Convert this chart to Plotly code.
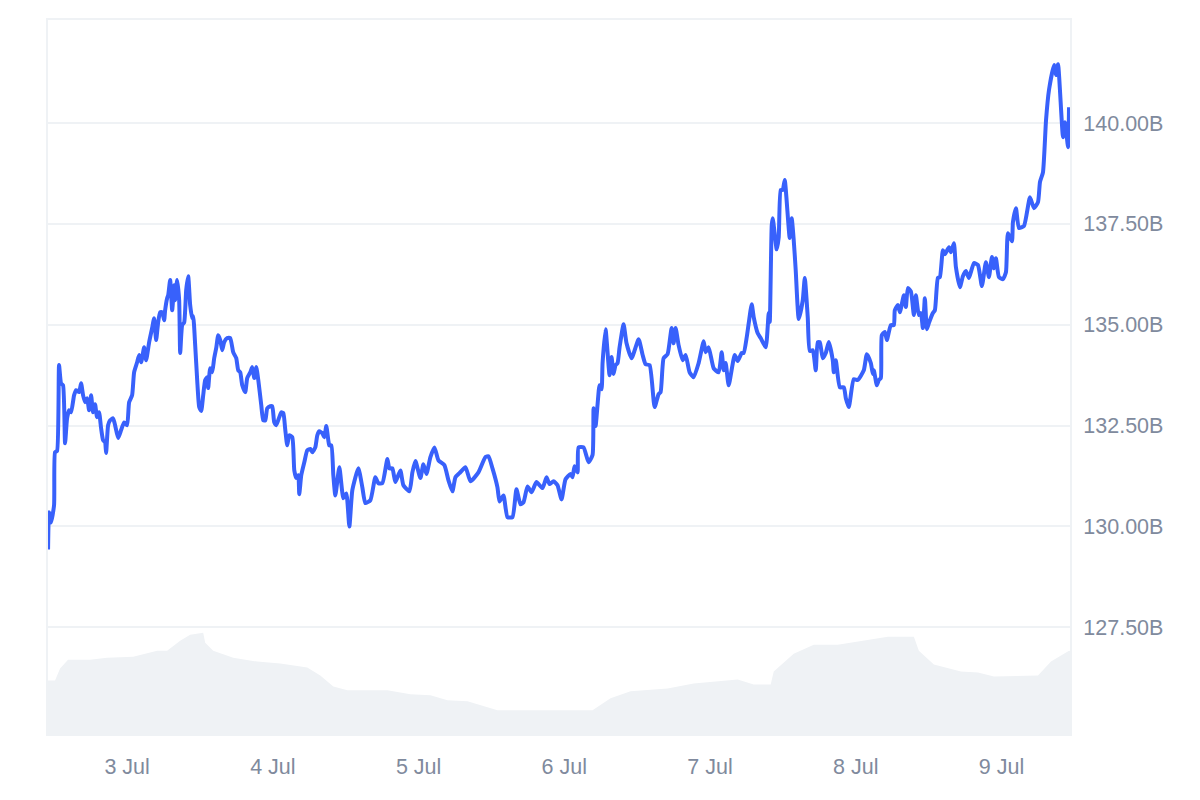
import pandas as pd
import plotly.graph_objects as go

# hours since 2 Jul 00:00
price_hours = [10.98,11.14,11.47,11.97,12.13,12.46,12.79,13.12,13.45,13.78,14.11,14.44,14.77,15.26,15.59,16.09,16.42,16.75,17.08,17.41,17.74,18.07,18.39,18.72,19.05,19.38,19.71,20.04,20.37,20.54,20.87,21.2,21.69,22.02,22.52,23.01,23.51,24.0,24.33,24.82,25.15,25.65,25.98,26.31,26.8,27.13,27.63,28.12,28.45,28.78,29.11,29.44,29.77,30.1,30.26,30.59,30.76,31.09,31.42,31.75,31.91,32.24,32.57,32.74,33.07,33.4,33.73,34.06,34.38,34.71,34.88,35.21,35.54,35.87,36.2,36.53,36.86,37.19,37.35,37.68,38.01,38.34,38.67,39.0,39.33,39.66,39.99,40.48,40.98,41.47,41.97,42.3,42.63,42.96,43.45,43.78,44.28,44.61,44.94,45.27,45.6,46.09,46.42,46.75,47.08,47.57,47.9,48.23,48.56,49.06,49.39,49.72,50.05,50.37,50.7,51.2,51.53,51.86,52.19,52.35,52.68,53.18,53.67,54.17,54.5,54.99,55.32,55.65,56.14,56.47,56.8,57.13,57.3,57.63,57.96,58.29,58.95,59.61,60.1,60.6,61.09,62.08,62.74,63.23,64.06,64.88,65.38,66.03,66.86,67.19,67.68,68.18,69.0,69.5,70.49,70.98,71.48,72.3,72.79,73.29,73.95,74.61,75.27,76.25,76.91,77.57,78.07,78.73,79.72,80.54,81.86,83.01,83.51,84.17,84.99,85.32,85.98,86.64,87.46,88.12,88.78,89.28,89.94,90.6,91.42,92.41,93.07,93.56,94.22,94.88,95.54,96.2,97.02,97.35,97.68,98.18,98.34,99.17,99.99,100.65,100.82,101.15,101.48,101.8,102.13,102.3,102.79,103.45,103.78,104.11,104.44,104.77,105.1,105.76,106.25,107.08,108.24,108.9,109.39,110.05,110.87,111.53,111.86,112.35,113.01,113.67,114.0,114.33,114.83,115.49,115.98,116.64,117.3,118.12,118.95,119.28,119.77,120.6,121.42,121.92,122.25,122.57,123.07,124.06,124.55,125.21,125.54,126.04,126.37,126.86,127.19,127.85,128.34,129.17,129.66,129.83,130.16,130.32,130.98,131.31,131.64,131.97,132.3,133.12,133.45,133.78,134.11,134.61,135.27,135.6,136.09,136.42,136.92,137.41,137.74,138.07,138.56,139.06,139.55,140.21,140.38,140.71,141.37,142.03,142.36,142.85,143.67,144.33,145.32,145.82,146.48,146.81,146.97,147.47,147.8,148.13,148.29,148.79,149.12,149.77,150.27,150.43,150.93,151.26,151.92,152.25,152.58,153.07,153.57,153.9,154.39,154.72,155.05,155.38,155.71,156.04,156.7,157.03,157.52,157.85,158.35,158.68,159.34,159.67,160.16,160.49,161.15,161.64,162.14,162.63,163.46,164.12,164.77,165.43,165.93,166.42,166.75,167.08,167.58,168.24,168.73,169.06,169.72,169.88,170.38,170.87,171.7,172.69,173.35,174.01,174.34,174.83,175.33,175.82,176.65,176.98,177.31,178.13,178.46,178.96,179.12]

# billions
price_values = [129.43,130.35,130.1,130.53,131.84,131.87,134.0,133.55,133.5,132.06,132.68,132.88,132.83,133.25,133.38,133.33,133.55,133.25,133.08,133.18,132.88,133.25,132.83,133.03,132.71,132.83,132.44,132.14,132.09,131.82,132.51,132.63,132.68,132.51,132.19,132.39,132.58,132.51,133.08,133.25,133.82,134.07,134.25,134.07,134.44,134.12,134.57,134.92,135.16,134.62,135.06,135.31,135.31,135.11,135.36,135.66,135.73,136.11,135.36,135.98,135.61,136.11,135.61,134.3,134.99,135.06,135.86,136.2,135.49,135.16,135.21,134.49,133.63,132.96,132.86,133.25,133.63,133.7,133.43,133.92,133.82,134.17,134.42,134.74,134.62,134.37,134.57,134.67,134.67,134.32,134.17,133.87,133.82,133.5,133.33,133.68,133.82,133.95,133.68,133.95,133.63,133.01,132.63,132.63,132.93,132.98,132.98,132.58,132.51,132.71,132.83,132.81,132.39,132.01,132.26,132.21,131.39,131.2,131.27,130.8,131.27,131.59,131.89,131.92,131.84,131.96,132.26,132.36,132.31,132.21,132.49,132.14,132.01,132.01,131.27,130.77,131.47,130.7,130.82,130.0,130.9,131.44,130.97,130.58,130.65,131.22,131.07,131.07,131.67,131.44,131.44,131.1,131.39,131.02,130.87,131.34,131.62,131.2,131.54,131.3,131.72,131.96,131.64,131.52,131.15,130.87,131.22,131.32,131.47,131.12,131.34,131.72,131.74,131.44,130.97,130.62,130.77,130.23,130.23,130.92,130.55,130.6,130.99,130.85,131.1,130.95,131.22,131.05,131.12,131.02,130.67,131.17,131.3,131.22,131.49,131.34,131.96,131.96,131.59,131.77,132.93,132.49,133.03,133.5,133.4,134.05,134.89,133.75,134.2,133.78,134.0,134.05,134.44,135.01,134.54,134.17,134.64,134.25,134.02,134.0,132.96,133.28,133.33,134.17,134.27,134.92,134.54,134.92,134.49,134.12,134.25,133.82,133.7,134.05,134.59,134.32,134.44,133.92,133.82,134.32,133.87,134.05,133.5,134.25,134.1,134.3,134.3,134.69,135.04,135.51,135.19,134.79,134.67,134.44,135.29,135.06,137.47,137.64,136.87,137.17,138.34,138.34,138.59,137.15,137.64,137.1,136.35,135.14,135.61,136.16,135.19,134.35,134.37,133.87,134.57,134.57,134.17,134.3,134.57,134.12,133.82,134.12,133.45,133.45,133.18,132.96,133.65,133.63,133.87,134.27,134.05,133.78,133.87,133.5,133.63,133.68,134.74,134.82,134.62,134.99,134.99,135.36,135.49,135.31,135.73,135.44,135.91,135.83,135.24,135.73,135.24,135.29,134.92,135.66,134.89,135.04,135.29,135.36,136.16,136.18,136.85,136.75,136.92,136.8,137.02,136.43,135.93,136.2,136.33,136.16,136.53,136.48,135.96,136.55,136.18,136.68,136.4,136.65,136.18,136.13,136.3,137.27,137.07,137.54,137.89,137.4,137.45,138.16,137.89,138.04,138.54,138.78,140.07,140.82,141.44,141.19,141.46,139.65,140.02,139.4,140.39]

volume_hours = [10.81,12.13,12.96,14.27,17.9,20.7,25.0,28.95,30.59,32.74,34.38,36.53,36.86,38.18,41.47,45.43,49.22,53.67,55.81,57.96,60.27,66.86,70.65,73.95,76.75,80.05,84.99,95.38,100.65,103.62,106.91,113.01,117.3,124.55,127.19,129.99,130.49,133.78,137.08,141.03,144.83,149.28,153.57,154.39,156.86,161.31,164.12,166.75,174.01,176.15,179.12,179.61]
volume_values = [2.7,2.7,3.3,3.75,3.75,3.85,3.9,4.2,4.2,4.7,5.0,5.1,4.6,4.2,3.85,3.65,3.55,3.35,2.95,2.4,2.2,2.2,2.0,1.95,1.7,1.65,1.2,1.2,1.2,1.8,2.15,2.3,2.55,2.75,2.5,2.5,3.15,4.05,4.5,4.5,4.7,4.9,4.9,4.2,3.5,3.15,3.1,2.9,2.95,3.65,4.2,4.15]

x_tick_dates = ["2024-07-03","2024-07-04","2024-07-05","2024-07-06","2024-07-07","2024-07-08","2024-07-09"]
x_tick_labels = ["3 Jul","4 Jul","5 Jul","6 Jul","7 Jul","8 Jul","9 Jul"]
y_tick_values = [127.5,130,132.5,135,137.5,140]
y_tick_labels = ["127.50B","130.00B","132.50B","135.00B","137.50B","140.00B"]

origin = pd.Timestamp("2024-07-02")
def to_time(hours):
    return [origin + pd.Timedelta(hours=h) for h in hours]

LINE = "#3861FB"
SOFT = "#EFF2F5"
TEXT = "#808A9D"
FONT = dict(family="Liberation Sans, Arial, sans-serif", size=21.5, color=TEXT)

fig = go.Figure()
fig.add_trace(go.Scatter(x=to_time(volume_hours), y=volume_values, yaxis="y2", mode="lines",
                         line=dict(width=0, color=SOFT), fill="tozeroy", fillcolor=SOFT,
                         hoverinfo="skip", showlegend=False))
fig.add_trace(go.Scatter(x=to_time(price_hours), y=price_values, mode="lines",
                         line=dict(color=LINE, width=4, shape="spline", smoothing=0.5), showlegend=False))

fig.update_layout(
    width=1200, height=800, autosize=False,
    margin=dict(l=40, r=138, t=10, b=74, pad=0),
    paper_bgcolor="white", plot_bgcolor="white", font=FONT,
    xaxis=dict(type="date", range=list(map(str, to_time([10.97, 179.28]))),
               tickmode="array", tickvals=x_tick_dates, ticktext=x_tick_labels,
               showgrid=False, zeroline=False, ticks="outside", ticklen=12,
               tickcolor="rgba(0,0,0,0)", showline=True, linecolor=SOFT, linewidth=2, mirror=True,
               tickfont=FONT),
    yaxis=dict(side="right", range=[124.855, 142.555], tickmode="array",
               tickvals=y_tick_values, ticktext=y_tick_labels,
               showgrid=True, gridcolor=SOFT, gridwidth=2, zeroline=False,
               ticks="outside", ticklen=7, tickcolor="rgba(0,0,0,0)",
               showline=True, linecolor=SOFT, linewidth=2, mirror=True, tickfont=FONT),
    yaxis2=dict(overlaying="y", range=[0, 36], visible=False, fixedrange=True),
)

fig.write_html("out.html", config=dict(displayModeBar=False))
